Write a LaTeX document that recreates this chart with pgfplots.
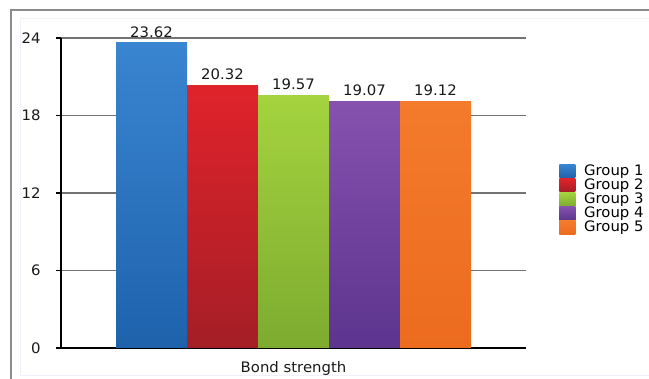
\documentclass[border=0pt]{standalone}
\usepackage{fontspec}
\setmainfont{DejaVu Sans}[FakeStretch=1.03]
\usepackage{pgfplots}
\pgfplotsset{compat=1.18}
\newcommand{\F}{\fontsize{14.5}{17}\selectfont}
\definecolor{bluet}{HTML}{3A85D0}\definecolor{blueb}{HTML}{1E62AC}
\definecolor{redt}{HTML}{E0232B}\definecolor{redb}{HTML}{A51E26}
\definecolor{greent}{HTML}{A4D33F}\definecolor{greenb}{HTML}{7DAB2F}
\definecolor{purplet}{HTML}{8652AE}\definecolor{purpleb}{HTML}{5C348E}
\definecolor{oranget}{HTML}{F47B2B}\definecolor{orangeb}{HTML}{EC6B1F}
\begin{document}
\begin{tikzpicture}
\useasboundingbox (0,0) rectangle (649bp,379bp);
\draw[color=black!8!blue!6, line width=1bp] (20bp,3bp) rectangle (700bp,360bp);
\draw[color=black!45, line width=1.8bp] (11bp,-10bp) rectangle (700bp,369bp);
\begin{axis}[
  at={(61bp,31bp)}, anchor=south west,
  scale only axis, width=465bp, height=310bp,
  xmin=0, xmax=465, ymin=0, ymax=24,
  enlargelimits=false, clip=false,
  axis x line*=bottom, axis y line*=left,
  axis line style={black, line width=1.6bp, -},
  ytick={0,6,12,18,24},
  xtick={232.5}, xticklabels={Bond strength},
  major x tick style={draw=none},
  major y tick style={black, line width=1.4bp},
  tick align=outside, major tick length=5bp,
  ymajorgrids, major grid style={color=black!55, line width=1.8bp},
  /pgf/number format/assume math mode=true,
  tick label style={font=\F, text=black!90},
  yticklabel style={anchor=east, xshift=-12bp},
  xticklabel style={yshift=-5bp},
  ybar, bar width=71, bar shift=0pt,
  nodes near coords,
  nodes near coords style={font=\F, text=black!90, yshift=2bp, /pgf/number format/.cd, fixed, fixed zerofill, precision=2, assume math mode=true},
  legend style={at={(1.065,0.48)}, anchor=west, draw=none, fill=none, font=\F,
     row sep=0.3bp, column sep=8bp, nodes={inner sep=0.7bp}, legend cell align=left},
  legend image code/.code={\path[#1, draw=none] (0bp,-7bp) rectangle (16bp,6.5bp);},
]
\addplot[draw=none, top color=bluet, bottom color=blueb] coordinates {(90.5,23.62)};
\addplot[draw=none, top color=redt, bottom color=redb] coordinates {(161.5,20.32)};
\addplot[draw=none, top color=greent, bottom color=greenb] coordinates {(232.5,19.57)};
\addplot[draw=none, top color=purplet, bottom color=purpleb] coordinates {(303.5,19.07)};
\addplot[draw=none, top color=oranget, bottom color=orangeb] coordinates {(374.5,19.12)};
\legend{Group 1, Group 2, Group 3, Group 4, Group 5}
\end{axis}
\end{tikzpicture}
\end{document}
